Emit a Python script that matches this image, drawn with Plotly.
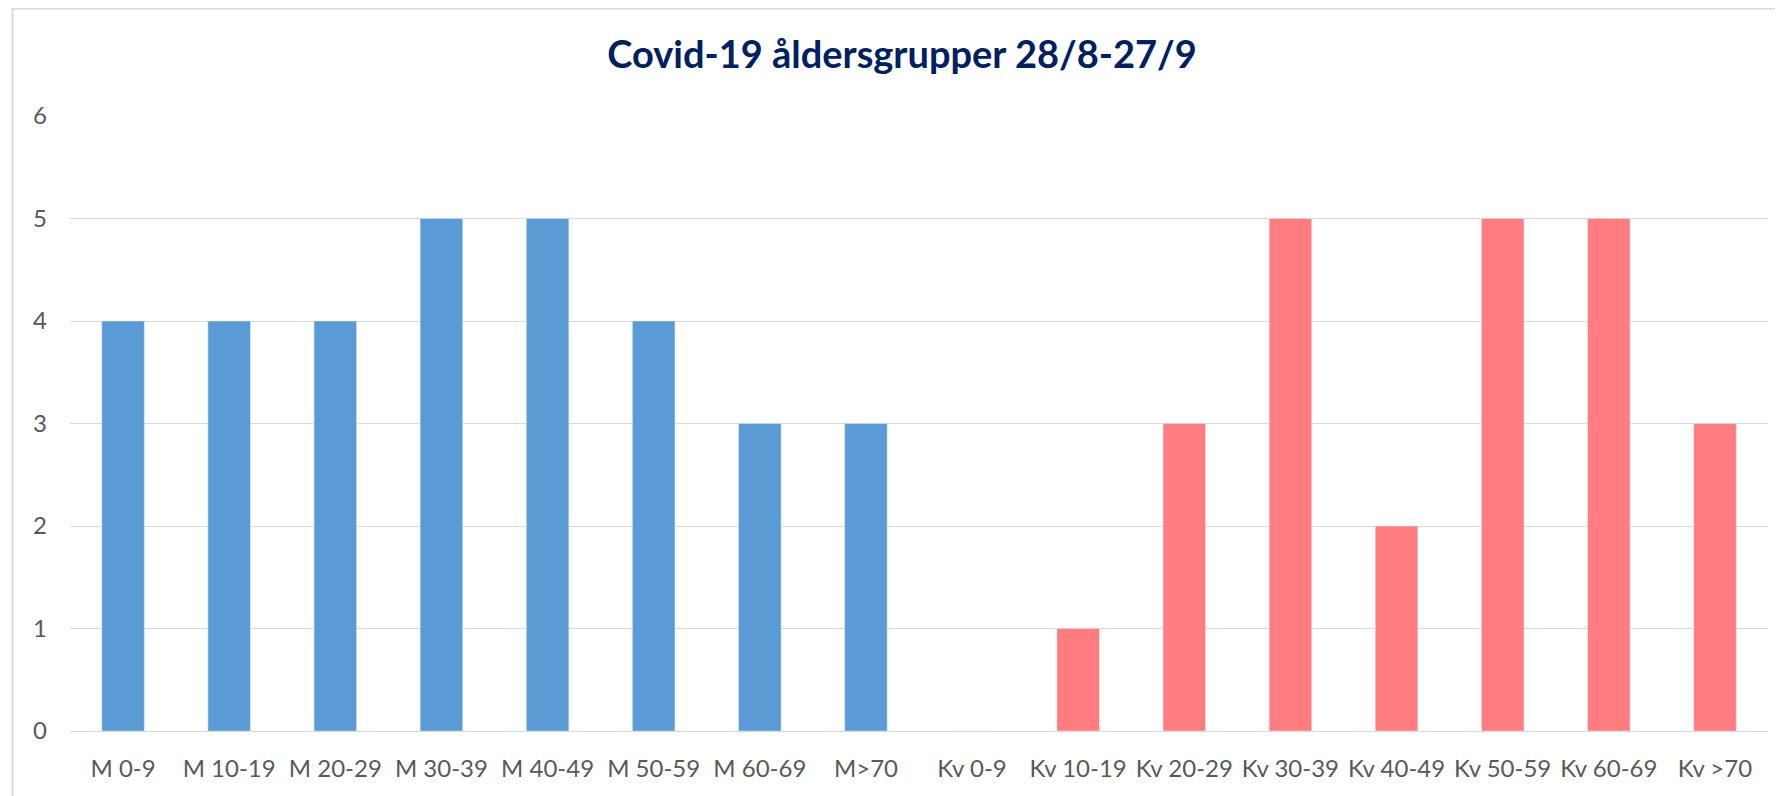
import plotly.graph_objects as go

title_text = "Covid-19 åldersgrupper 28/8-27/9"
men_labels = ["M 0-9", "M 10-19", "M 20-29", "M 30-39", "M 40-49", "M 50-59", "M 60-69", "M>70"]
men_values = [4, 4, 4, 5, 5, 4, 3, 3]
women_labels = ["Kv 0-9", "Kv 10-19", "Kv 20-29", "Kv 30-39", "Kv 40-49", "Kv 50-59", "Kv 60-69", "Kv >70"]
women_values = [0, 1, 3, 5, 2, 5, 5, 3]
y_ticks = [0, 1, 2, 3, 4, 5, 6]

W, H = 1775, 788

fig = go.Figure()
fig.add_trace(go.Bar(x=men_labels, y=men_values, marker_color="#5B9BD5", name="M"))
fig.add_trace(go.Bar(x=women_labels, y=women_values, marker_color="#FF7C80", name="Kv"))

fig.update_layout(
    width=W, height=H,
    margin=dict(l=61.5, r=15, t=108, b=65),
    paper_bgcolor="white", plot_bgcolor="white",
    barmode="overlay", bargap=0.599,
    showlegend=False,
    font=dict(family="Lato", color="#595959", size=24),
    title=dict(text="<b>" + title_text + "</b>", x=0.5037, xanchor="center", y=0.9404, yanchor="middle",
               font=dict(family="Lato", size=38, color="#002060")),
    xaxis=dict(categoryorder="array", categoryarray=men_labels + women_labels,
               showgrid=False, showline=True, linecolor="#D9D9D9", linewidth=1,
               ticks="", ticklabelstandoff=16, tickfont=dict(size=24, color="#595959")),
    yaxis=dict(range=[0, 6], tickvals=y_ticks, showgrid=True, gridcolor="#D9D9D9", gridwidth=1,
               zeroline=False, ticks="", ticklabelstandoff=22,
               tickfont=dict(size=24, color="#595959")),
)
fig.add_shape(type="rect", xref="paper", yref="paper",
              x0=(4 - 61.5) / (W - 61.5 - 15), x1=1.05, y0=-0.3, y1=(H - 65 - 0.5) / (H - 108 - 65),
              line=dict(color="#D9D9D9", width=2), fillcolor="rgba(0,0,0,0)", layer="below")
fig.write_html("out.html")
